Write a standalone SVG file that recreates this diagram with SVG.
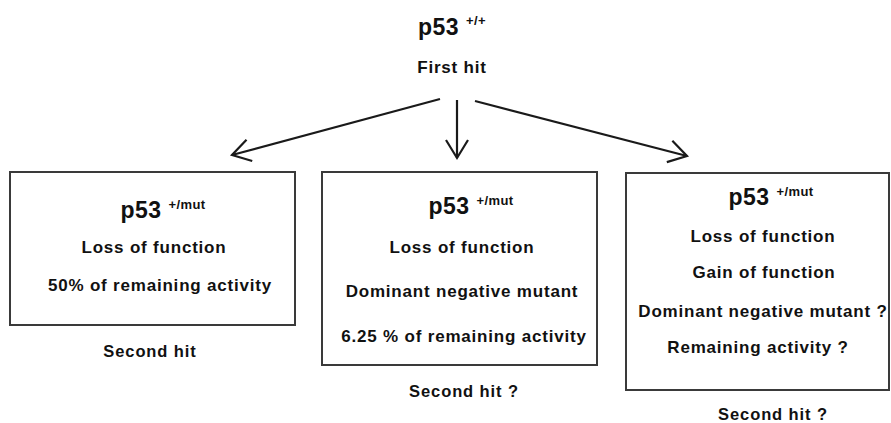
<svg xmlns="http://www.w3.org/2000/svg" width="891" height="423" viewBox="0 0 891 423">
  <style>
    text { font-family: "Liberation Sans", Arial, Helvetica, sans-serif; font-weight: bold; fill: #111; text-anchor: middle; }
    .t { font-size: 17px; letter-spacing: 0.8px; }
    .h { font-size: 16.5px; letter-spacing: 0.9px; }
    .gene { font-size: 23px; letter-spacing: 0.5px; }
    .sup { font-size: 13px; letter-spacing: 0.4px; }
    .box { fill: #fff; stroke: #3a3a3a; stroke-width: 2; }
    .link { fill: none; stroke: #1a1a1a; stroke-width: 2.2; }
  </style>
  <defs>
    <marker id="open-arrow" markerUnits="userSpaceOnUse" markerWidth="30" markerHeight="30" viewBox="-22 -15 26 30" refX="0" refY="0" orient="auto">
      <path d="M -18,-11 L 0,0 L -18,11" fill="none" stroke="#1a1a1a" stroke-width="2.2" stroke-linejoin="miter"/>
    </marker>
  </defs>

  <rect width="891" height="423" fill="#fff"/>

  <!-- wild-type origin -->
  <g id="wild-type">
    <text class="gene" x="452" y="35">p53<tspan class="sup" dx="7" dy="-10">+/+</tspan></text>
    <text class="t" x="452" y="73">First hit</text>
  </g>

  <!-- connectors -->
  <g id="connectors">
    <line class="link" x1="440" y1="99" x2="232" y2="155" marker-end="url(#open-arrow)"/>
    <line class="link" x1="457" y1="100" x2="457" y2="158" marker-end="url(#open-arrow)"/>
    <line class="link" x1="475" y1="101" x2="687" y2="156" marker-end="url(#open-arrow)"/>
  </g>

  <!-- loss of function -->
  <g id="loss-of-function">
    <rect class="box" x="10" y="172" width="285" height="153"/>
    <text class="gene" x="163" y="218">p53<tspan class="sup" dx="7" dy="-9">+/mut</tspan></text>
    <text class="t" x="154" y="253">Loss of function</text>
    <text class="t" x="160" y="291">50% of remaining activity</text>
    <text class="h" x="150" y="357">Second hit</text>
  </g>

  <!-- dominant negative -->
  <g id="dominant-negative">
    <rect class="box" x="322" y="172" width="275" height="193"/>
    <text class="gene" x="471" y="214">p53<tspan class="sup" dx="7" dy="-9">+/mut</tspan></text>
    <text class="t" x="462" y="253">Loss of function</text>
    <text class="t" x="462" y="297">Dominant negative mutant</text>
    <text class="t" x="464" y="342">6.25 % of remaining activity</text>
    <text class="h" x="464" y="397">Second hit ?</text>
  </g>

  <!-- gain of function -->
  <g id="gain-of-function">
    <rect class="box" x="626" y="173" width="263" height="217"/>
    <text class="gene" x="771" y="205">p53<tspan class="sup" dx="7" dy="-9">+/mut</tspan></text>
    <text class="t" x="763" y="242">Loss of function</text>
    <text class="t" x="764" y="278">Gain of function</text>
    <text class="t" x="763" y="317">Dominant negative mutant ?</text>
    <text class="t" x="758" y="353">Remaining activity ?</text>
    <text class="h" x="773" y="420">Second hit ?</text>
  </g>
</svg>
